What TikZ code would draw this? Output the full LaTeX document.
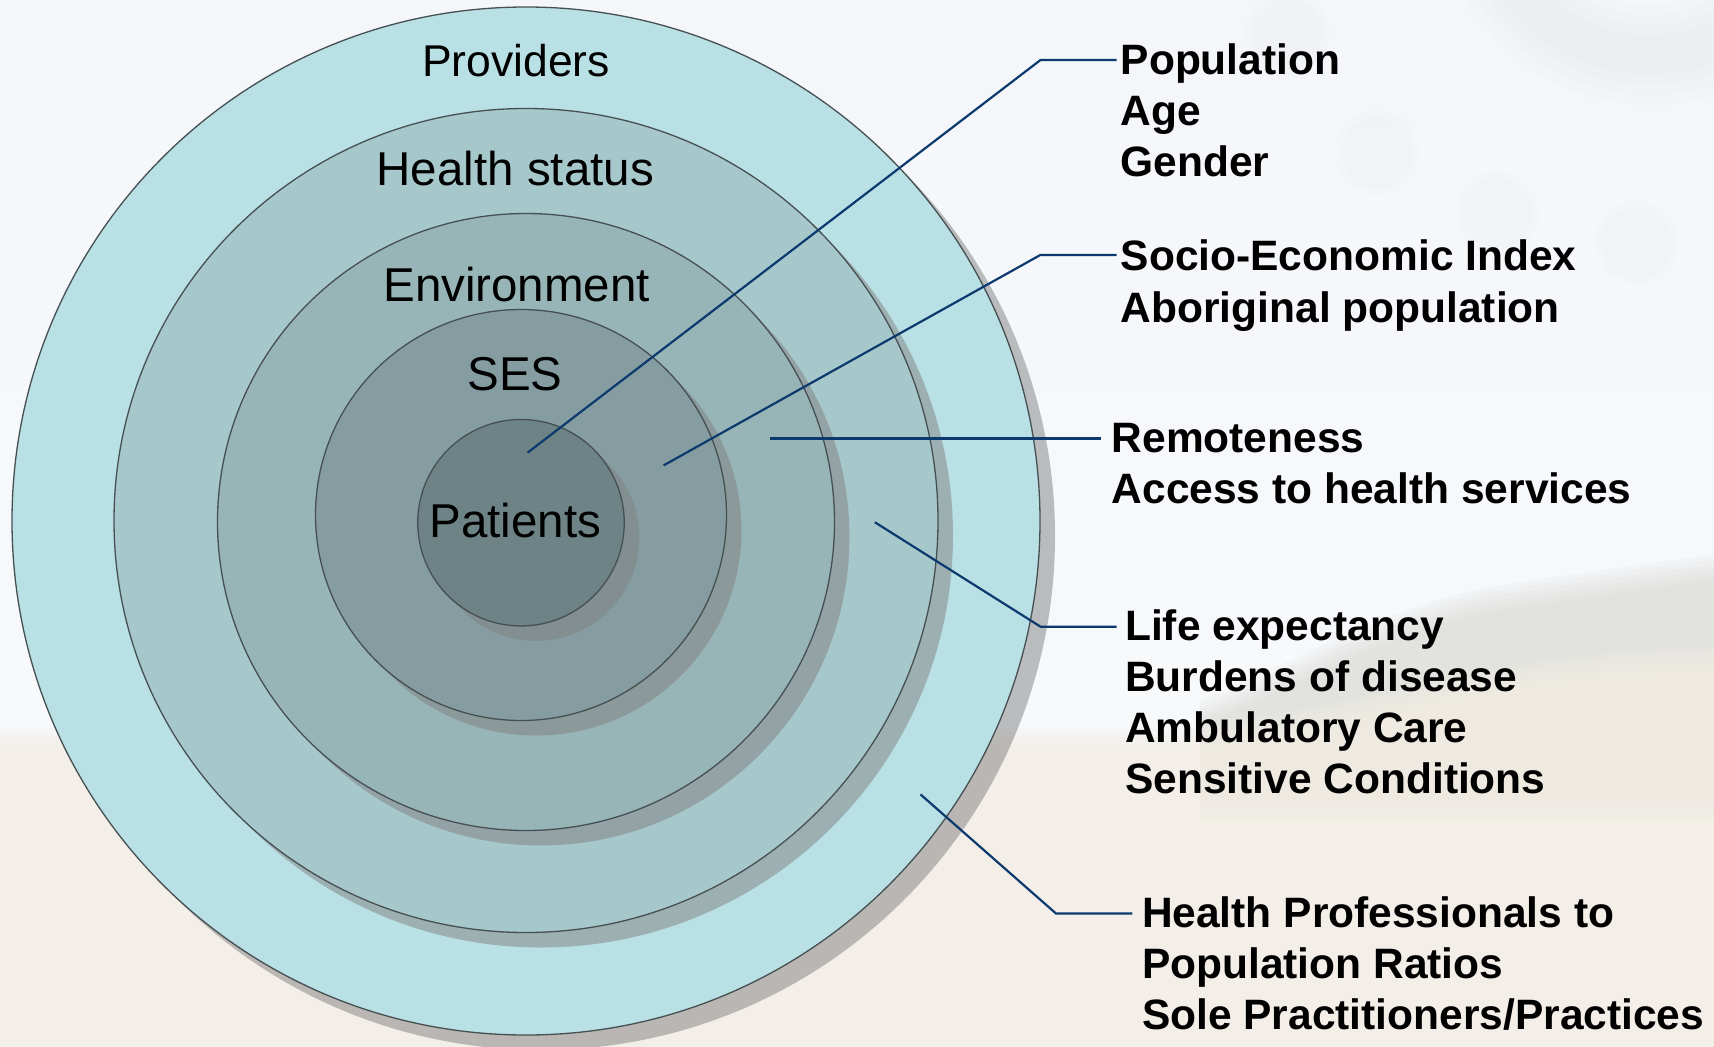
\documentclass[tikz,border=0pt]{standalone}
\usepackage{fontspec}
\setmainfont{Liberation Sans}
\usetikzlibrary{shadows}
\definecolor{cProv}{RGB}{185,224,228}
\definecolor{cHealth}{RGB}{167,200,203}
\definecolor{cEnv}{RGB}{151,180,183}
\definecolor{cSES}{RGB}{133,157,160}
\definecolor{cPat}{RGB}{110,131,133}
\definecolor{cEdge}{RGB}{70,80,82}
\definecolor{cLine}{RGB}{12,58,110}
\definecolor{shadowc}{RGB}{128,128,128}
\definecolor{bgtop}{RGB}{244,246,250}
\definecolor{bgmid}{RGB}{248,250,252}
\definecolor{ground}{RGB}{243,238,229}
\definecolor{hill}{RGB}{205,203,192}
\tikzset{
  ring/.style={circle, inner sep=0pt, outer sep=0pt, draw=cEdge, line width=1.3pt,
    drop shadow={shadow xshift=15pt, shadow yshift=-15pt, fill=shadowc, opacity=0.5}},
  conn/.style={draw=cLine, line width=2.2pt},
  lbl/.style={anchor=base west, inner sep=0pt, font=\fontsize{42.5}{51}\selectfont\bfseries},
  clbl/.style={anchor=base, inner sep=0pt, font=\fontsize{47.5}{57}\selectfont},
}
\begin{document}
\begin{tikzpicture}[x=1pt,y=-1pt]
\useasboundingbox (0,0) rectangle (1714,1047);
% background
\shade[top color=bgtop, bottom color=bgmid] (0,0) rectangle (1714,1047);
\foreach \r/\o in {215/0.006,205/0.006,195/0.006,185/0.006} {
  \fill[black, opacity=\o, even odd rule] (1650,-110) circle (\r) (1650,-110) circle (\r-70);
}
\foreach \cx/\cy in {1287/33,1377/153,1497/213,1637/243} {
  \fill[black, opacity=0.008] (\cx,\cy) circle (42);
  \fill[black, opacity=0.008] (\cx,\cy) circle (36);
}
\foreach \s in {0,5,10,15,20,25} {
  \fill[hill, opacity=0.09, yshift=-\s pt] (1200,700) .. controls (1300,660) and (1400,600) .. (1500,585) .. controls (1600,570) and (1670,560) .. (1714,555) -- (1714,800) -- (1200,800) -- cycle;
}
\foreach \s in {0,4,8,12,16,20,24} {
  \fill[ground, opacity=0.22, yshift=-\s pt] (0,728) -- (1150,728) .. controls (1300,720) and (1380,688) .. (1480,670) .. controls (1580,653) and (1660,648) .. (1714,646) -- (1714,1047) -- (0,1047) -- cycle;
}
% circles
\node[ring, fill=cProv, minimum size=1028pt] (prov) at (526,521) {};
\node[ring, fill=cHealth, minimum size=824pt] (health) at (526,520.5) {};
\node[ring, fill=cEnv, minimum size=617pt] (env) at (526,522) {};
\node[ring, fill=cSES, minimum size=411pt] (ses) at (521,515) {};
\node[ring, fill=cPat, minimum size=206.5pt] (pat) at (521,522.7) {};
% circle labels
\node[clbl, font=\fontsize{44.5}{53}\selectfont] (tprov) at (516,76.8) {Providers};
\node[clbl] (thealth) at (515.3,185.6) {Health status};
\node[clbl] (tenv) at (516.7,301.8) {Environment};
\node[clbl] (tses) at (515,390) {SES};
\node[clbl] (tpat) at (515.3,537.3) {Patients};
% connectors
\coordinate (p1) at (527.5,452.7); \coordinate (k1) at (1040.5,60); \coordinate (e1) at (1116.5,60);
\coordinate (p2) at (663.6,465.4); \coordinate (k2) at (1040.3,255); \coordinate (e2) at (1116.5,255);
\coordinate (p3) at (769.5,438.5); \coordinate (e3) at (1101,438.5);
\coordinate (p4) at (874.8,522.2); \coordinate (k4) at (1040.7,626.8); \coordinate (e4) at (1116.6,626.8);
\coordinate (p5) at (920.5,794.4); \coordinate (k5) at (1056,913.5); \coordinate (e5) at (1132.3,913.5);
\draw[conn] (p1) -- (k1) -- (e1);
\draw[conn] (p2) -- (k2) -- (e2);
\draw[conn] (p3) -- (e3);
\draw[conn] (p4) -- (k4) -- (e4);
\draw[conn] (p5) -- (k5) -- (e5);
% right texts
\node[lbl] (a1) at (1120.5,74.5) {Population};
\node[lbl] (a2) at (1120.5,125.5) {Age};
\node[lbl] (a3) at (1120.5,176.5) {Gender};
\node[lbl] (b1) at (1120.5,270.7) {Socio-Economic Index};
\node[lbl] (b2) at (1120.5,322) {Aboriginal population};
\node[lbl] (c1) at (1111.5,452.3) {Remoteness};
\node[lbl] (c2) at (1111.5,503) {Access to health services};
\node[lbl] (d1) at (1125,640) {Life expectancy};
\node[lbl] (d2) at (1125,691) {Burdens of disease};
\node[lbl] (d3) at (1125,742) {Ambulatory Care};
\node[lbl] (d4) at (1125,793) {Sensitive Conditions};
\node[lbl] (f1) at (1141.8,927) {Health Professionals to};
\node[lbl] (f2) at (1141.8,978) {Population Ratios};
\node[lbl] (f3) at (1141.8,1029) {Sole Practitioners/Practices};
\end{tikzpicture}
\end{document}
